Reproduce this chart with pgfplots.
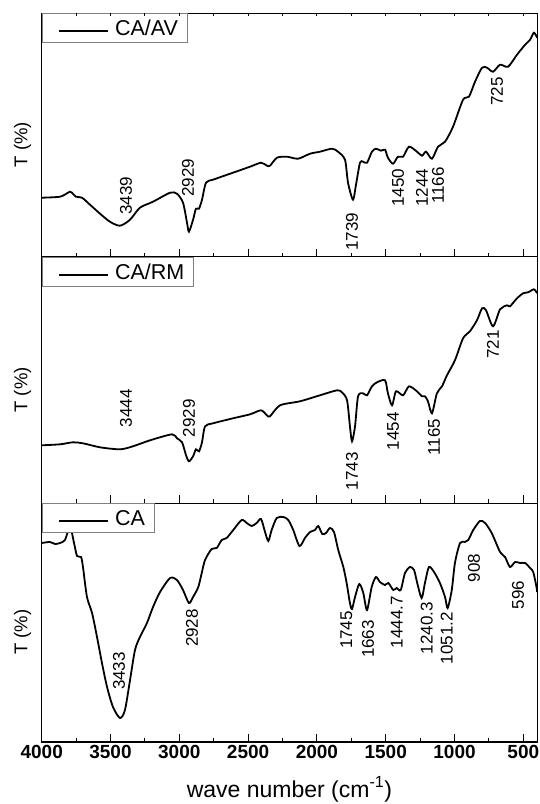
\documentclass[border=0pt]{standalone}
\usepackage{pgfplots}
\pgfplotsset{compat=1.18}
\usepackage{fontspec}
\setmainfont{Liberation Sans}
\begin{document}
\begin{tikzpicture}
\path[use as bounding box] (0pt,0pt) rectangle (540pt,-804pt);
\tikzset{lbl/.style={rotate=90, font=\fontsize{17}{19}\selectfont, inner sep=0pt, anchor=center}}
\pgfplotsset{
  spec/.style={black, no markers, line width=1.8pt, smooth, tension=0.45},
  panel/.style={
    scale only axis, width=495.4pt, x dir=reverse, xmin=400, xmax=4000,
    xtick={500,1000,...,4000}, minor x tick num=1,
    ytick=\empty, ymin=0,
    major tick length=8pt, minor tick length=4pt,
    tick style={line width=1pt, black},
    axis line style={line width=1.1pt},
    xtick pos=bottom, tick align=inside,
    ylabel={T (\%)},
    ylabel style={at={(axis description cs:-0.0384,0.46)}, anchor=center, font=\fontsize{18.5}{20}\selectfont},
    legend style={at={(0,1)}, anchor=north west, draw=gray, fill=white, line width=0.8pt,
      inner xsep=9pt, inner ysep=6.75pt,
      nodes={inner sep=0pt, text height=15.5pt, text depth=0pt},
      font=\fontsize{21.5}{24}\selectfont},
    legend image code/.code={\path[draw=none] (0pt,0pt) -- (64pt,0pt); \draw[line width=1.8pt, black] (8pt,-3pt) -- (57pt,-3pt);},
    /pgf/number format/assume math mode=true,
    /pgf/number format/1000 sep={},
    xticklabel style={font=\fontsize{19}{22}\selectfont\bfseries, inner sep=0pt, yshift=-3pt},
  },
}
% ---------- top panel: CA/AV ----------
\begin{axis}[panel, at={(41.7pt,-13.3pt)}, anchor=north west, height=243.4pt, ymax=243.4, xticklabels={}]
\addplot[spec] coordinates {(4000,59)(3867,60)(3809,64)(3794,65)(3780,64)(3751,60)(3707,59)(3649,52)(3576,43)(3504,35)(3431,31)(3358,37)(3286,49)(3191,55)(3067,64)(3017,63)(2973,54)(2944,34)(2930,25)(2900,37)(2879,48)(2857,48)(2835,57)(2806,74)(2755,77)(2610,84)(2486,90)(2406,94)(2363,91)(2341,91)(2290,99)(2217,100)(2137,98)(2050,103)(1978,105)(1890,108)(1847,105)(1796,97)(1774,74)(1738,57)(1716,72)(1687,94)(1665,95)(1636,94)(1600,105)(1571,108)(1534,106)(1505,107)(1484,99)(1447,93)(1411,100)(1374,100)(1331,110)(1273,105)(1236,101)(1207,105)(1164,98)(1120,110)(1069,115)(1011,130)(938,157)(895,160)(851,175)(800,189)(764,189)(720,185)(669,192)(611,190)(546,202)(487,212)(451,217)(423,224)(400,219)};
\addlegendentry{CA/AV}
\node[lbl] at (axis cs:3387,61) {3439};
\node[lbl] at (axis cs:2937,79) {2929};
\node[lbl] at (axis cs:1745,25) {1739};
\node[lbl] at (axis cs:1411,69) {1450};
\node[lbl] at (axis cs:1236,69) {1244};
\node[lbl] at (axis cs:1120,71) {1166};
\node[lbl] at (axis cs:691,165) {725};
\end{axis}
% short ticks on the top edge of the top panel
\begin{axis}[at={(41.7pt,-13.3pt)}, anchor=north west, scale only axis, width=495.4pt, height=243.4pt,
  x dir=reverse, xmin=400, xmax=4000, ymin=0, ymax=1,
  axis x line*=top, axis y line=none, xtick={500,1000,...,4000}, minor x tick num=1,
  tick align=inside, major tick length=3pt, minor tick length=3pt, xticklabels={},
  tick style={line width=1pt, black}, axis line style={draw=none}]
\end{axis}
% ---------- middle panel: CA/RM ----------
\begin{axis}[panel, at={(41.7pt,-256.7pt)}, anchor=north west, height=246.6pt, ymax=246.6, xticklabels={}]
\addplot[spec] coordinates {(4000,58)(3867,59)(3773,61)(3700,60)(3576,56)(3431,54)(3337,57)(3213,63)(3053,69)(3017,65)(2980,61)(2951,48)(2930,42)(2900,47)(2879,54)(2857,52)(2835,61)(2813,77)(2755,80)(2610,85)(2486,89)(2406,93)(2363,88)(2341,87)(2268,98)(2123,102)(1978,108)(1854,113)(1818,111)(1781,103)(1760,77)(1745,62)(1723,77)(1701,107)(1665,110)(1636,108)(1600,117)(1563,121)(1505,123)(1484,110)(1454,98)(1425,112)(1374,108)(1331,117)(1273,112)(1236,107)(1215,107)(1193,102)(1164,90)(1128,110)(1091,117)(1055,128)(997,143)(938,165)(888,172)(837,183)(800,195)(771,193)(720,177)(669,194)(618,198)(597,197)(546,205)(502,210)(465,211)(423,214)(400,210)};
\addlegendentry{CA/RM}
\node[lbl] at (axis cs:3387,95) {3444};
\node[lbl] at (axis cs:2930,85) {2929};
\node[lbl] at (axis cs:1745,32) {1743};
\node[lbl] at (axis cs:1447,72) {1454};
\node[lbl] at (axis cs:1149,66) {1165};
\node[lbl] at (axis cs:720,159) {721};
\end{axis}
% ---------- bottom panel: CA ----------
\begin{axis}[panel, at={(41.7pt,-503.3pt)}, anchor=north west, height=238.7pt, ymax=238.7,
  xlabel={wave number (cm\textsuperscript{-1})},
  xlabel style={at={(axis description cs:0.5,0)}, anchor=base, yshift=-55pt, font=\fontsize{23}{25}\selectfont}]
\addplot[spec] coordinates {(4000,199)(3940,200)(3903,198)(3867,199)(3831,202)(3794,215)(3765,199)(3743,186)(3714,185)(3700,175)(3671,145)(3634,129)(3598,105)(3562,79)(3525,55)(3482,35)(3431,24)(3395,32)(3358,62)(3322,92)(3286,105)(3235,119)(3191,135)(3140,150)(3067,164)(3017,162)(2973,152)(2930,139)(2900,145)(2862,155)(2837,169)(2813,182)(2765,193)(2728,194)(2692,202)(2656,204)(2608,212)(2547,222)(2510,219)(2474,216)(2438,219)(2406,223)(2377,210)(2353,201)(2329,212)(2292,224)(2244,225)(2208,222)(2172,212)(2127,196)(2087,204)(2050,210)(2014,212)(1990,216)(1961,208)(1934,209)(1905,214)(1876,210)(1845,192)(1808,175)(1784,159)(1760,139)(1745,133)(1723,145)(1692,158)(1663,149)(1636,132)(1602,155)(1571,165)(1542,160)(1505,157)(1481,159)(1445,152)(1420,154)(1391,152)(1360,169)(1324,175)(1294,172)(1271,159)(1239,144)(1215,159)(1186,175)(1149,170)(1106,159)(1069,145)(1050,134)(1020,152)(997,179)(960,199)(924,200)(900,202)(864,212)(815,221)(778,219)(730,209)(669,190)(633,185)(597,175)(560,180)(524,179)(487,179)(451,174)(428,170)(403,154)(400,150)};
\addlegendentry{CA}
\node[lbl] at (axis cs:3438,71) {3433};
\node[lbl] at (axis cs:2908,114) {2928};
\node[lbl] at (axis cs:1786,112) {1745};
\node[lbl] at (axis cs:1629,103) {1663};
\node[lbl] at (axis cs:1420,120) {1444.7};
\node[lbl] at (axis cs:1202,114) {1240.3};
\node[lbl] at (axis cs:1057,104) {1051.2};
\node[lbl] at (axis cs:858,174) {908};
\node[lbl] at (axis cs:538,147) {596};
\end{axis}
\end{tikzpicture}
\end{document}
